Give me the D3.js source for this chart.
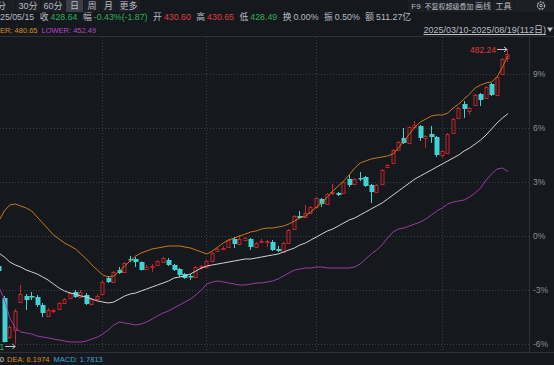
<!DOCTYPE html>
<html><head><meta charset="utf-8">
<script src="https://cdn.jsdelivr.net/npm/d3@7/dist/d3.min.js"></script>
<style>
html,body{margin:0;padding:0;background:#15181d;overflow:hidden;}
svg{display:block;}
text{font-family:"Liberation Sans","Noto Sans CJK SC",sans-serif;}
</style></head><body>
<svg id="c" width="554" height="365"></svg>
<script>
// ---------- DATA ----------
const dates = ["2025-04-03","2025-04-07","2025-04-08","2025-04-09","2025-04-10","2025-04-11","2025-04-14","2025-04-15","2025-04-16","2025-04-17","2025-04-18","2025-04-21","2025-04-22","2025-04-23","2025-04-24","2025-04-25","2025-04-28","2025-04-29","2025-04-30","2025-05-06","2025-05-07","2025-05-08","2025-05-09","2025-05-12","2025-05-13","2025-05-14","2025-05-15","2025-05-16","2025-05-19","2025-05-20","2025-05-21","2025-05-22","2025-05-23","2025-05-26","2025-05-27","2025-05-28","2025-05-29","2025-05-30","2025-06-03","2025-06-04","2025-06-05","2025-06-06","2025-06-09","2025-06-10","2025-06-11","2025-06-12","2025-06-13","2025-06-16","2025-06-17","2025-06-18","2025-06-19","2025-06-20","2025-06-23","2025-06-24","2025-06-25","2025-06-26","2025-06-27","2025-06-30","2025-07-01","2025-07-02","2025-07-03","2025-07-04","2025-07-07","2025-07-08","2025-07-09","2025-07-10","2025-07-11","2025-07-14","2025-07-15","2025-07-16","2025-07-17","2025-07-18","2025-07-21","2025-07-22","2025-07-23","2025-07-24","2025-07-25","2025-07-28","2025-07-29","2025-07-30","2025-07-31","2025-08-01","2025-08-04","2025-08-05","2025-08-06","2025-08-07","2025-08-08","2025-08-11","2025-08-12","2025-08-13","2025-08-14","2025-08-15","2025-08-18","2025-08-19"];
const open = [429.57,421.80,412.34,414.04,420.83,422.29,422.17,422.05,420.10,417.44,418.53,419.13,420.59,421.80,423.26,422.05,422.53,420.35,421.68,422.78,426.66,425.69,428.60,428.12,431.27,431.27,430.60,428.85,429.33,429.82,430.54,431.03,429.82,428.85,427.63,427.15,426.91,429.33,429.33,430.79,433.21,433.70,434.18,436.13,434.91,436.00,436.13,434.18,435.40,435.40,435.40,433.58,432.97,435.15,438.55,441.71,441.46,442.44,443.89,445.83,444.62,447.29,447.29,447.29,450.69,449.47,450.81,451.17,449.23,447.53,449.47,453.60,454.57,457.73,460.64,459.42,463.31,463.55,460.64,461.61,460.88,456.51,457.00,461.85,465.49,468.89,467.19,468.65,471.31,470.34,473.74,471.07,476.17,480.05];
const high = [430.06,422.29,415.25,419.13,424.96,422.78,423.26,422.53,420.59,419.38,419.13,420.83,421.80,423.26,423.75,423.75,423.02,421.80,422.78,425.93,427.15,428.36,429.33,430.54,432.00,431.76,430.65,429.82,430.06,431.03,431.76,431.51,430.06,429.09,427.88,427.63,429.57,429.82,431.03,432.97,433.94,434.43,436.13,436.61,437.10,436.61,436.37,435.40,436.13,435.88,435.88,434.43,435.40,438.55,441.95,442.92,444.38,444.13,446.32,446.08,447.29,449.47,447.53,450.20,451.66,450.93,452.39,451.42,449.47,449.47,453.11,454.33,457.97,459.91,463.06,463.55,464.76,463.79,461.36,463.55,461.12,457.73,461.85,465.49,468.16,469.62,468.16,471.31,471.56,473.26,473.99,475.68,480.05,482.24];
const low = [428.12,411.01,411.86,410.71,420.59,418.89,421.32,419.62,417.19,417.19,418.17,418.89,420.35,421.56,421.80,421.80,420.10,420.10,421.56,422.53,425.44,425.44,427.63,427.88,430.54,429.33,428.49,428.60,428.12,429.57,430.30,429.57,428.36,426.91,426.42,426.17,426.66,428.60,429.09,430.54,432.97,433.46,433.94,433.94,434.67,435.64,433.46,433.94,435.15,434.18,433.21,432.97,432.73,434.91,438.31,440.98,441.22,442.19,443.65,443.89,444.38,446.80,446.56,447.05,448.75,449.23,450.20,448.75,444.86,447.29,449.23,453.36,454.33,457.48,459.18,459.18,462.82,459.91,458.21,459.42,456.03,455.79,456.76,461.61,465.25,465.49,466.22,468.40,468.40,470.10,470.83,470.83,475.93,479.08];
const close = [428.36,411.13,414.77,418.65,422.78,421.32,421.93,420.10,418.17,418.89,418.77,420.59,421.56,423.02,422.05,423.26,420.35,421.56,422.17,425.69,425.69,428.12,427.88,430.30,431.03,430.51,428.64,429.33,429.57,430.79,431.51,429.82,428.60,427.39,426.66,426.91,429.33,429.57,430.79,432.73,433.58,433.94,435.88,434.91,436.13,436.25,434.18,435.15,435.64,435.52,433.46,433.33,435.15,438.31,441.71,441.22,442.44,443.89,446.08,444.62,447.05,447.53,446.80,449.96,449.23,450.69,450.57,448.99,447.53,449.23,452.87,454.09,457.73,459.67,459.42,463.31,463.67,460.64,461.12,460.88,456.51,457.48,461.61,465.25,467.92,467.68,467.92,471.07,469.86,473.01,471.07,475.44,479.81,481.02];
const bollUpper = [440.49,442.92,444.38,444.62,444.13,443.65,442.92,441.46,440.01,438.55,437.10,436.13,435.15,434.43,433.70,432.48,431.27,429.82,428.60,427.39,426.91,427.15,428.36,429.57,430.79,432.00,432.73,433.21,433.70,433.94,434.18,434.43,434.43,434.43,434.18,433.94,433.46,432.97,432.48,433.21,434.18,435.15,435.88,436.37,436.85,437.34,437.82,438.07,438.55,438.79,438.79,439.04,439.28,439.77,440.49,441.22,441.71,442.68,443.89,444.86,446.32,447.77,448.99,450.20,451.66,453.36,454.57,455.06,455.54,455.79,456.03,456.27,456.76,458.21,459.91,461.61,463.31,464.52,465.25,465.98,466.22,466.22,466.70,467.92,468.89,470.10,471.31,472.77,473.50,473.99,474.23,475.44,477.87,480.65];
const bollMid = [432.73,431.76,430.54,429.82,429.33,428.60,428.12,427.63,426.91,426.17,425.20,424.23,423.51,423.02,422.78,422.29,422.05,421.56,421.08,420.83,420.59,420.83,421.56,422.29,422.78,423.02,423.51,423.99,424.48,424.96,425.44,425.93,426.66,426.91,427.15,427.63,428.36,429.09,429.57,429.82,430.06,430.30,430.54,430.79,431.03,431.27,431.27,431.51,431.76,432.00,432.24,432.48,432.97,433.46,433.94,434.67,435.15,435.88,436.61,437.34,438.07,438.55,439.28,440.01,440.74,441.22,441.95,442.68,443.41,444.13,444.86,445.83,446.80,447.77,448.75,449.72,450.69,451.42,452.14,452.87,453.60,454.33,455.06,455.79,456.51,457.48,458.21,459.18,460.15,461.36,462.82,464.28,465.49,466.57];
const bollLower = [424.48,421.56,416.95,414.52,413.55,413.31,413.07,412.58,412.34,412.10,411.86,411.61,411.37,411.13,411.13,411.13,411.37,411.86,412.34,413.07,414.04,415.25,415.98,415.74,415.50,415.25,415.50,415.98,416.71,417.44,418.17,418.65,419.38,420.10,420.83,421.56,422.53,423.75,425.20,425.69,425.93,425.69,425.44,425.20,424.96,424.96,425.20,425.44,425.44,425.69,425.93,426.42,427.15,427.88,428.60,428.85,429.09,429.09,429.33,429.33,429.09,429.09,429.09,429.09,429.09,429.33,430.06,431.27,432.48,433.46,434.67,436.37,437.82,438.55,438.79,439.28,439.77,440.25,440.98,441.95,442.92,443.65,444.62,445.10,445.35,445.59,446.32,447.29,448.50,450.44,451.91,453.11,453.36,452.49];
const basePrice = 436.85;              // 0% reference of the right-hand axis
const pctTicks = [-6, -3, 0, 3, 6, 9];
const hoverDate = "2025-05-15";
const turnover = "0.00%", amount = "511.27亿";
const rangeLabel = "2025/03/10-2025/08/19(112日)";
const macdDIF = 7.0880, macdDEA = 6.1974, macdMACD = 1.7813;
const leftTabs = ["15分","30分","60分","日","周","月","更多"];
const rightTabs = ["F9","不复权","超级叠加","画线","工具"];

// ---------- DRAW ----------
const W = 554, H = 365;
const C = {bg:"#15181d", grid:"#3a3e46", frame:"#2c3037", text:"#b9bdc4", axis:"#8d9198",
  up:"#c8232b", down:"#3fd3d3", upper:"#c8781e", mid:"#d2d2d2", lower:"#9c3ca6",
  red:"#e23b40", green:"#27b35c", orange:"#d98c1f", purple:"#b14bc2", macd:"#3aa9d6"};
const svg = d3.select("#c");
svg.append("rect").attr("width", W).attr("height", H).attr("fill", C.bg);

const plot = {top: 37, bottom: 352, axisX: 529};
const step = 5.475;
const x = d3.scaleBand().domain(dates).range([-1.175 - step/2, -1.175 - step/2 + step*dates.length]).padding(0);
const y = d3.scaleLinear()
  .domain([basePrice*(1+pctTicks[0]/100), basePrice*(1+pctTicks[pctTicks.length-1]/100)])
  .range([344, 74]);
const cx = d => x(d) + x.bandwidth()/2;

// frame lines
svg.append("line").attr("x1",0).attr("x2",W).attr("y1",36.5).attr("y2",36.5).attr("stroke",C.frame);
svg.append("line").attr("x1",0).attr("x2",W).attr("y1",352.5).attr("y2",352.5).attr("stroke",C.frame);
svg.append("line").attr("x1",plot.axisX+0.5).attr("x2",plot.axisX+0.5).attr("y1",37).attr("y2",352).attr("stroke",C.frame);

// grid
const gGrid = svg.append("g");
pctTicks.forEach(p => {
  const yy = Math.round(y(basePrice*(1+p/100))) + 0.5;
  gGrid.append("line").attr("x1",0).attr("x2",plot.axisX).attr("y1",yy).attr("y2",yy)
    .attr("stroke",C.grid).attr("stroke-dasharray","1,2");
});
dates.forEach((d,i) => {
  if (i > 0 && d.slice(5,7) !== dates[i-1].slice(5,7)) {
    const xx = Math.floor(cx(d)) + 0.5;
    gGrid.append("line").attr("x1",xx).attr("x2",xx).attr("y1",plot.top).attr("y2",plot.bottom)
      .attr("stroke",C.grid).attr("stroke-dasharray","1,2");
  }
});

// right axis
const yAxis = d3.axisRight(y)
  .tickValues(pctTicks.map(p => basePrice*(1+p/100)))
  .tickFormat((v,i) => pctTicks[i] + "%").tickSize(0).tickPadding(4);
const gA = svg.append("g").attr("transform",`translate(${plot.axisX},0)`).call(yAxis);
gA.select(".domain").remove();
gA.selectAll("text").attr("fill",C.axis).attr("font-size",8.5);

// clip
svg.append("clipPath").attr("id","clip").append("rect").attr("x",0).attr("y",plot.top).attr("width",plot.axisX).attr("height",plot.bottom-plot.top);
const gC = svg.append("g").attr("clip-path","url(#clip)");

// candles
const bodyW = 4;
dates.forEach((d,i) => {
  const o = open[i], c = close[i], h = high[i], l = low[i];
  const xc = Math.floor(cx(d)) + 0.5;
  const up = c >= o;
  const yTop = y(Math.max(o,c)), yBot = y(Math.min(o,c));
  if (up) {
    gC.append("line").attr("x1",xc).attr("x2",xc).attr("y1",y(h)).attr("y2",yTop).attr("stroke",C.up);
    gC.append("line").attr("x1",xc).attr("x2",xc).attr("y1",yBot).attr("y2",y(l)).attr("stroke",C.up);
    gC.append("rect").attr("x",xc-1.5).attr("width",bodyW-1).attr("y",Math.round(yTop)+0.5)
      .attr("height",Math.max(1, Math.round(yBot)-Math.round(yTop)))
      .attr("fill",C.bg).attr("stroke",C.up);
  } else {
    gC.append("line").attr("x1",xc).attr("x2",xc).attr("y1",y(h)).attr("y2",y(l)).attr("stroke",C.down);
    gC.append("rect").attr("x",xc-2).attr("width",bodyW+1).attr("y",Math.round(yTop))
      .attr("height",Math.max(1.5, Math.round(yBot)-Math.round(yTop))).attr("fill",C.down);
  }
});

// bollinger lines
const lineGen = arr => d3.line().x((d,i) => cx(dates[i])).y(v => y(v))(arr);
gC.append("path").attr("d",lineGen(bollUpper)).attr("fill","none").attr("stroke",C.upper).attr("stroke-width",1);
gC.append("path").attr("d",lineGen(bollMid)).attr("fill","none").attr("stroke",C.mid).attr("stroke-width",1);
gC.append("path").attr("d",lineGen(bollLower)).attr("fill","none").attr("stroke",C.lower).attr("stroke-width",1);

// max / min markers
const iMax = d3.maxIndex(high), iMin = d3.minIndex(low);
{
  const xx = cx(dates[iMax]) - 1, yy = Math.round(y(high[iMax])) + 0.5;
  gC.append("line").attr("x1",xx-10).attr("x2",xx).attr("y1",yy).attr("y2",yy).attr("stroke","#c9c9c9");
  gC.append("path").attr("d",`M${xx-3},${yy-2.5}L${xx},${yy}L${xx-3},${yy+2.5}`).attr("fill","none").attr("stroke","#c9c9c9");
  gC.append("text").attr("x",xx-11).attr("y",yy+3).attr("text-anchor","end").attr("fill",C.red)
    .attr("font-size",8.5).text(high[iMax].toFixed(2));
}
{
  const xx = cx(dates[iMin]), yy = Math.round(y(low[iMin])) + 2.5;
  gC.append("line").attr("x1",xx-10).attr("x2",xx).attr("y1",yy).attr("y2",yy).attr("stroke","#c9c9c9");
  gC.append("path").attr("d",`M${xx-3},${yy-2.5}L${xx},${yy}L${xx-3},${yy+2.5}`).attr("fill","none").attr("stroke","#c9c9c9");
  gC.append("text").attr("x",xx-11).attr("y",yy+3).attr("text-anchor","end").attr("fill",C.green)
    .attr("font-size",8.5).text(low[iMin].toFixed(2));
}

// ---------- HEADER ----------
function measure(t, size) {
  const el = svg.append("text").attr("font-size",size).text(t);
  const w = el.node().getComputedTextLength(); el.remove(); return w;
}
function flow(x0, yb, size, items) {
  let xx = x0;
  items.forEach(([t,col,gap]) => {
    xx += gap;
    const el = svg.append("text").attr("x",xx).attr("y",yb).attr("fill",col).attr("font-size",size).text(t);
    xx += el.node().getComputedTextLength();
  });
}
// tabs row
const leftTabX = [[-22,15],[16,40],[41,65],[66,83],[84,100],[101,116],[117,140]];
leftTabs.forEach((t,i) => {
  const [a,b] = leftTabX[i];
  svg.append("rect").attr("x",a).attr("y",0).attr("width",b-a).attr("height",12)
    .attr("fill", t === "日" ? "#3a3e47" : "#1c1f25");
  svg.append("text").attr("x",(a+b)/2).attr("y",9).attr("text-anchor","middle").attr("fill",C.text)
    .attr("font-size",9).text(t);
});
const rightTabX = [[408,424],[425,445],[446,473],[474,492],[493,514],[515,554]];
rightTabs.forEach((t,i) => {
  const [a,b] = rightTabX[i];
  svg.append("rect").attr("x",a).attr("y",0).attr("width",b-a).attr("height",12).attr("fill","#1c1f25");
  svg.append("text").attr("x",(a+b)/2).attr("y",9).attr("text-anchor","middle").attr("fill",C.text)
    .attr("font-size",t.length > 2 ? 7 : 8).text(t);
});
{
  const [a,b] = rightTabX[5];
  svg.append("rect").attr("x",a).attr("y",0).attr("width",b-a).attr("height",12).attr("fill","#1c1f25");
  svg.append("circle").attr("cx",541).attr("cy",5.5).attr("r",3.6).attr("fill","none").attr("stroke",C.text).attr("stroke-width",1.2).attr("stroke-dasharray","2,1");
  svg.append("circle").attr("cx",541).attr("cy",5.5).attr("r",1.3).attr("fill","none").attr("stroke",C.text);
}

// quote row
const hi = dates.indexOf(hoverDate);
const prev = close[hi-1];
const chg = close[hi] - prev;
const pct = chg/prev*100;
const amp = (high[hi]-low[hi])/prev*100;
const colOf = v => v >= prev ? C.red : C.green;
const fs2 = 8.8;
flow(-measure("20",fs2), 20, fs2, [
  [hoverDate.replace(/-/g,"/"), C.text, 0],
  ["收", C.text, 5.5], [close[hi].toFixed(2), colOf(close[hi]), 2],
  ["幅", C.text, 5.5], [`${pct.toFixed(2)}%(${chg.toFixed(2)})`, chg >= 0 ? C.red : C.green, 2],
  ["开", C.text, 5.5], [open[hi].toFixed(2), colOf(open[hi]), 2],
  ["高", C.text, 5.5], [high[hi].toFixed(2), colOf(high[hi]), 2],
  ["低", C.text, 5.5], [low[hi].toFixed(2), colOf(low[hi]), 2],
  ["换", C.text, 5.5], [turnover, C.text, 2],
  ["振", C.text, 5.5], [amp.toFixed(2)+"%", C.text, 2],
  ["额", C.text, 5.5], [amount, C.text, 2]
]);

// indicator legend row
const last = dates.length - 1;
flow(-measure("UPP",7.5), 33, 7.5, [
  ["UPPER: " + bollUpper[last].toFixed(2), C.orange, 0],
  ["LOWER: " + bollLower[last].toFixed(2), C.purple, 4]
]);
{
  const t = svg.append("text").attr("x",546).attr("y",33).attr("text-anchor","end").attr("fill",C.text)
    .attr("font-size",9).text(rangeLabel);
  const bb = t.node().getBBox();
  svg.append("line").attr("x1",bb.x).attr("x2",bb.x+bb.width).attr("y1",34.5).attr("y2",34.5).attr("stroke",C.text);
  svg.append("path").attr("d","M547,27.5L553,27.5L550,32Z").attr("fill",C.text);
}

// MACD legend row
{
  const wDif = measure("DIF: " + macdDIF.toFixed(4), 7.5);
  flow(4 - wDif, 362, 7.5, [
    ["DIF: " + macdDIF.toFixed(4), "#d8d8d8", 0],
    ["DEA: " + macdDEA.toFixed(4), C.orange, 3],
    ["MACD: " + macdMACD.toFixed(4), C.macd, 4]
  ]);
}
</script>
</body></html>
